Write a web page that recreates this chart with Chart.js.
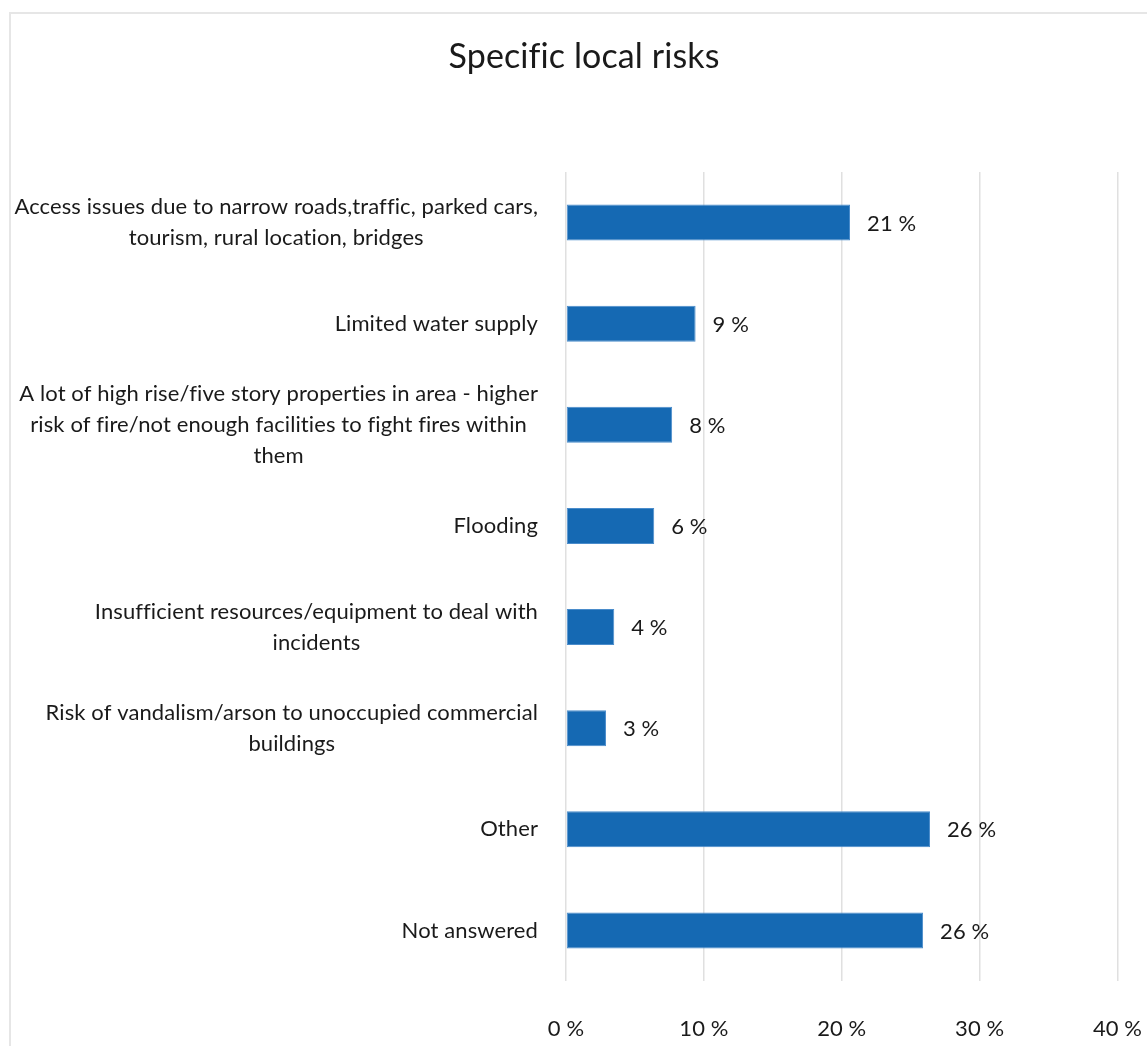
<!DOCTYPE html>
<html>
<head>
<meta charset="utf-8">
<script src="https://cdn.jsdelivr.net/npm/chart.js@4/dist/chart.umd.min.js"></script>
<style>
  html, body { margin: 0; padding: 0; background: #fff; overflow: hidden; }
  #wrap { position: relative; width: 1147px; height: 1046px; }
  #frame { position: absolute; left: 9px; top: 12px; width: 1160px; height: 1060px; border: 2px solid #e6e6e6; box-sizing: border-box; pointer-events: none; }
  canvas { position: absolute; left: 0; top: 0; }
</style>
</head>
<body>
<div id="wrap">
  <canvas id="c" width="1147" height="1046"></canvas>
  <div id="frame"></div>
</div>
<script>
const chartTitle = "Specific local risks";
const categories = [
  ["Access issues due to narrow roads,traffic, parked cars,", "tourism, rural location, bridges"],
  ["Limited water supply"],
  ["A lot of high rise/five story properties in area - higher", "risk of fire/not enough facilities to fight fires within", "them"],
  ["Flooding"],
  ["Insufficient resources/equipment to deal with", "incidents"],
  ["Risk of vandalism/arson to unoccupied commercial", "buildings"],
  ["Other"],
  ["Not answered"]
];
const values = [20.6, 9.4, 7.7, 6.4, 3.5, 2.9, 26.4, 25.9];
const xTicks = [0, 10, 20, 30, 40];

const FONT = "Lato, 'Open Sans', sans-serif";
const TEXT = "#1a1a1a";
const LABEL_SIZE = 22;

const noLigaturePlugin = {
  id: "noLigatures",
  beforeDraw(chart) {
    if ("letterSpacing" in chart.ctx) chart.ctx.letterSpacing = "0.1px";
  }
};

const categoryLabelPlugin = {
  id: "categoryLabels",
  afterDraw(chart) {
    const ctx = chart.ctx;
    const y = chart.scales.y;
    const rightEdge = chart.chartArea.left - 28;
    const lineH = 31;
    ctx.save();
    ctx.font = LABEL_SIZE + "px " + FONT;
    ctx.fillStyle = TEXT;
    ctx.textAlign = "center";
    ctx.textBaseline = "middle";
    chart.data.labels.forEach((lines, i) => {
      const cy = y.getPixelForValue(i);
      const w = Math.max(...lines.map(l => ctx.measureText(l).width));
      const cx = rightEdge - w / 2;
      const top = cy - (lines.length - 1) * lineH / 2;
      lines.forEach((l, k) => ctx.fillText(l, cx, top + k * lineH));
    });
    ctx.restore();
  }
};

const valueLabelPlugin = {
  id: "valueLabels",
  afterDatasetsDraw(chart) {
    const ctx = chart.ctx;
    const meta = chart.getDatasetMeta(0);
    ctx.save();
    ctx.font = LABEL_SIZE + "px " + FONT;
    ctx.fillStyle = TEXT;
    ctx.textAlign = "left";
    ctx.textBaseline = "middle";
    meta.data.forEach((bar, i) => {
      const v = chart.data.datasets[0].data[i];
      ctx.fillText(Math.round(v) + " %", bar.x + 17, bar.y + 1);
    });
    ctx.restore();
  }
};

new Chart(document.getElementById("c"), {
  type: "bar",
  data: {
    labels: categories,
    datasets: [{
      data: values,
      backgroundColor: "#1569b3",
      borderColor: "#4a8ccb",
      borderWidth: 1,
      borderSkipped: false,
      categoryPercentage: 1,
      barPercentage: 0.356
    }]
  },
  options: {
    indexAxis: "y",
    responsive: false,
    animation: false,
    devicePixelRatio: 1,
    layout: { padding: { left: 50.5, right: 29.5, top: 0, bottom: 5 } },
    plugins: {
      legend: { display: false },
      tooltip: { enabled: false },
      title: {
        display: true,
        text: chartTitle,
        color: TEXT,
        font: { family: FONT, size: 34, weight: "normal" },
        padding: { top: 36.6, bottom: 94.6 }
      }
    },
    scales: {
      x: {
        min: 0,
        max: 40,
        afterBuildTicks(scale) { scale.ticks = xTicks.map(v => ({ value: v })); },
        afterFit(scale) { scale.paddingLeft = 0; scale.paddingRight = 0; scale.height = 60; },
        grid: { color: "#e0e0e0", lineWidth: 1.5, drawTicks: false },
        border: { display: false },
        ticks: {
          color: TEXT,
          font: { family: FONT, size: LABEL_SIZE },
          padding: 34.8,
          callback: v => v + " %"
        }
      },
      y: {
        grid: { display: false },
        border: { display: false },
        ticks: { display: false },
        afterFit(scale) { scale.width = 515.5; }
      }
    }
  },
  plugins: [noLigaturePlugin, categoryLabelPlugin, valueLabelPlugin]
});
</script>
</body>
</html>
